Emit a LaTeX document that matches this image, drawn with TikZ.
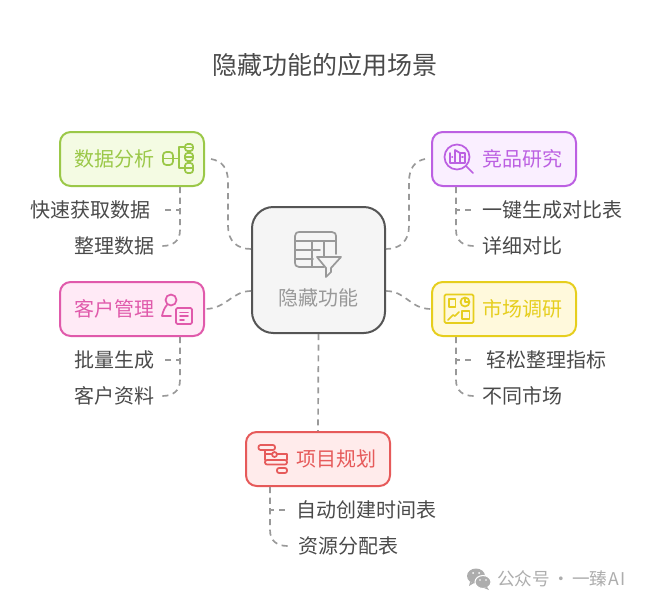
\documentclass[tikz,border=0pt]{standalone}
\usepackage{fontspec}
\setmainfont{Noto Sans CJK SC}
\definecolor{cgreen}{HTML}{9BC848}\definecolor{fgreen}{HTML}{F4FBE3}
\definecolor{cpurple}{HTML}{BC60E2}\definecolor{fpurple}{HTML}{FAEFFF}
\definecolor{cpink}{HTML}{E05AAB}\definecolor{fpink}{HTML}{FFEAF6}
\definecolor{cyellow}{HTML}{E6CE1E}\definecolor{fyellow}{HTML}{FFF9DC}
\definecolor{cred}{HTML}{E65A5A}\definecolor{fred}{HTML}{FFEBEB}
\definecolor{chub}{HTML}{555555}\definecolor{fhub}{HTML}{F5F5F5}
\definecolor{ctext}{HTML}{4A4A4A}\definecolor{cline}{HTML}{999999}
\definecolor{cicon}{HTML}{999999}\definecolor{cmark}{HTML}{ADADAD}
\tikzset{
  x=0.75pt,y=-0.75pt,
  catbox/.style={draw=#1,line width=1.5pt,rounded corners=8pt,minimum width=108pt,minimum height=40.5pt,inner xsep=10.5pt,inner ysep=0pt,text width=87pt,font=\fontsize{15pt}{18pt}\selectfont,text=#1},
  lefttext/.style={align=left},
  righttext/.style={align=right},
  hubbox/.style={draw=chub,fill=fhub,line width=1.5pt,rounded corners=16pt,minimum width=99.75pt,minimum height=94.5pt,inner sep=0pt,text=cicon,font=\fontsize{15pt}{18pt}\selectfont,text height=58.5pt,text depth=6pt},
  leafl/.style={anchor=east,inner ysep=0pt,inner xsep=5.5pt,text=ctext,font=\fontsize{15pt}{18pt}\selectfont},
  leafr/.style={anchor=west,inner ysep=0pt,inner xsep=6pt,text=ctext,font=\fontsize{15pt}{18pt}\selectfont},
  conn/.style={draw=cline,line width=1.25pt,dash pattern=on 4.5pt off 3.5pt},
  ico/.style={line width=1.3pt,line join=round,line cap=round},
}
\begin{document}
\begin{tikzpicture}
\useasboundingbox (0,0) rectangle (648,606);
\node[text=ctext,font=\fontsize{18.75pt}{22pt}\selectfont,inner sep=0pt] (title) at (324.5,65) {隐藏功能的应用场景};
% boxes
\node[hubbox] (hub) at (318.5,270) {隐藏功能};
\node[catbox=cgreen,fill=fgreen,lefttext] (data) at (132,159) {数据分析};
\node[catbox=cpurple,fill=fpurple,righttext] (comp) at (504,159) {竞品研究};
\node[catbox=cpink,fill=fpink,lefttext] (cust) at (132,309) {客户管理};
\node[catbox=cyellow,fill=fyellow,righttext] (mark) at (504,309) {市场调研};
\node[catbox=cred,fill=fred,righttext] (plan) at (318,459) {项目规划};
% leaves
\node[leafl,inner xsep=8.5pt] (l1) at (162,210) {快速获取数据};
\node[leafl] (l2) at (162,246) {整理数据};
\node[leafl] (l3) at (162,360) {批量生成};
\node[leafl] (l4) at (162,396) {客户资料};
\node[leafr] (r1) at (474,210) {一键生成对比表};
\node[leafr] (r2) at (474,246) {详细对比};
\node[leafr,inner xsep=9pt] (r3) at (474,360) {轻松整理指标};
\node[leafr] (r4) at (474,396) {不同市场};
\node[leafr,inner xsep=6.5pt] (b1) at (288,510) {自动创建时间表};
\node[leafr,inner xsep=7.5pt] (b2) at (288,546) {资源分配表};
% hub connectors
\draw[conn] ([xshift=4.5pt]data.east) .. controls (222,161) and (228,168) .. (228,182) -- (228,226) .. controls (228,241) and (237,249) .. ([yshift=15.75pt]hub.west);
\draw[conn] ([yshift=-15.75pt]hub.west) .. controls (232,291) and (226,309) .. (cust.east);
\draw[conn] ([xshift=-4.5pt]comp.west) .. controls (415,161) and (409,168) .. (409,182) -- (409,226) .. controls (409,241) and (400,249) .. ([yshift=15.75pt]hub.east);
\draw[conn] ([yshift=-15.75pt]hub.east) .. controls (406,291) and (410,309) .. (mark.west);
\draw[conn] (hub.south) -- (plan.north);
% leaf connectors
\draw[conn] ([xshift=36pt]data.south) -- (180,210) -- (l1.east);
\draw[conn] ([xshift=36pt]data.south) -- (180,230) .. controls (180,241) and (173,246) .. (l2.east);
\draw[conn] ([xshift=36pt]cust.south) -- (180,360) -- (l3.east);
\draw[conn] ([xshift=36pt]cust.south) -- (180,380) .. controls (180,391) and (173,396) .. (l4.east);
\draw[conn] ([xshift=-36pt]comp.south) -- (456,210) -- (r1.west);
\draw[conn] ([xshift=-36pt]comp.south) -- (456,230) .. controls (456,241) and (463,246) .. (r2.west);
\draw[conn] ([xshift=-36pt]mark.south) -- (456,360) -- (r3.west);
\draw[conn] ([xshift=-36pt]mark.south) -- (456,380) .. controls (456,391) and (463,396) .. (r4.west);
\draw[conn] ([xshift=-36pt]plan.south) -- (270,510) -- (b1.west);
\draw[conn] ([xshift=-36pt]plan.south) -- (270,530) .. controls (270,541) and (277,546) .. (b2.west);
% hub icon
\begin{scope}[ico,draw=cicon]
\draw (324,267) -- (299,267) .. controls (296,267) and (295,265) .. (295,263) -- (295,236) .. controls (295,233) and (297,232) .. (299,232) -- (332,232) .. controls (335,232) and (336,234) .. (336,236) -- (336,254);
\draw (295,241) -- (336,241) (295,250) -- (320,250) (295,259) -- (313,259) (312,241) -- (312,267) (324,241) -- (324,256);
\draw (317,257) -- (341,257) -- (331,268) -- (331,272) -- (326,277) -- (326,268) -- cycle;
\end{scope}
% green icon
\begin{scope}[ico,draw=cgreen]
\draw[rounded corners=2.5pt] (163,152) rectangle (173,165);
\draw (163,158.5) -- (173,158.5) (173,158.5) -- (179,158.5);
\draw (185,147) -- (179,147) -- (179,168) -- (185,168);
\foreach \a/\b in {144/151,153/161,163/173}{
  \draw[rounded corners=2pt] (185,\a) rectangle (193,\b);
  \draw (185,{(\a+\b)/2}) -- (193,{(\a+\b)/2});
}
\end{scope}
% purple icon
\begin{scope}[ico,draw=cpurple]
\draw (457,157) circle [radius=12.5];
\draw (466,166) -- (473,173);
\draw (450,153) -- (450,163) -- (465,163) -- (465,153) -- (460,153) -- (460,163) (455,150) -- (455,163) (460,153) -- (455,150) (452,157) -- (452.5,157) (462,157) -- (463,157);
\end{scope}
% pink icon
\begin{scope}[ico,draw=cpink]
\draw (171,300) circle [radius=5.5];
\draw (162,316) -- (171,316) (162,316) .. controls (163,311) and (165,307) .. (167,305);
\draw[rounded corners=1pt] (176,308) rectangle (192,324);
\draw (180,312.5) -- (188,312.5) (180,316) -- (188,316) (180,320) -- (184,320);
\end{scope}
% yellow icon
\begin{scope}[ico,draw=cyellow]
\draw[rounded corners=1pt] (444.5,294.5) rectangle (473.5,323);
\draw (449,299) rectangle (455.5,307);
\draw (465,302) circle [radius=4.5];
\draw (465,298) -- (465,302) -- (469,302);
\draw (462,311) rectangle (469.5,319);
\draw (448,320) -- (453,315) -- (455,316) -- (459,312);
\end{scope}
% red icon
\begin{scope}[ico,draw=cred]
\draw[rounded corners=1.5pt] (258.5,445) rectangle (275,450);
\draw (265,450) -- (265,460) (265,454) -- (272,454) (277,454) -- (287,454) -- (287,460);
\draw (274.5,454.5) circle [radius=2.5];
\draw[rounded corners=1.5pt] (265,460) rectangle (287,464.5);
\draw[rounded corners=1.5pt] (277,468) rectangle (287,473);
\end{scope}
% watermark
\fill[cmark] (476,576) ellipse [x radius=9,y radius=7.5];
\fill[cmark] (470,582) -- (469,586) -- (474,583) -- cycle;
\draw[white,line width=.8pt,fill=cmark] (483,582) ellipse [x radius=8,y radius=6.5];
\fill[cmark] (487,587) -- (489,590) -- (484,588) -- cycle;
\fill[white] (473,573) circle [radius=1] (479,573) circle [radius=1] (480,580) circle [radius=.9] (486,580) circle [radius=.9];
\node[anchor=west,inner sep=0pt,text=cmark,font=\fontsize{13.2pt}{16pt}\selectfont] (mk) at (497,579) {公众号\makebox[16.5pt][c]{·}一臻\hspace{1pt}A\hspace{1pt}I};
\end{tikzpicture}
\end{document}
